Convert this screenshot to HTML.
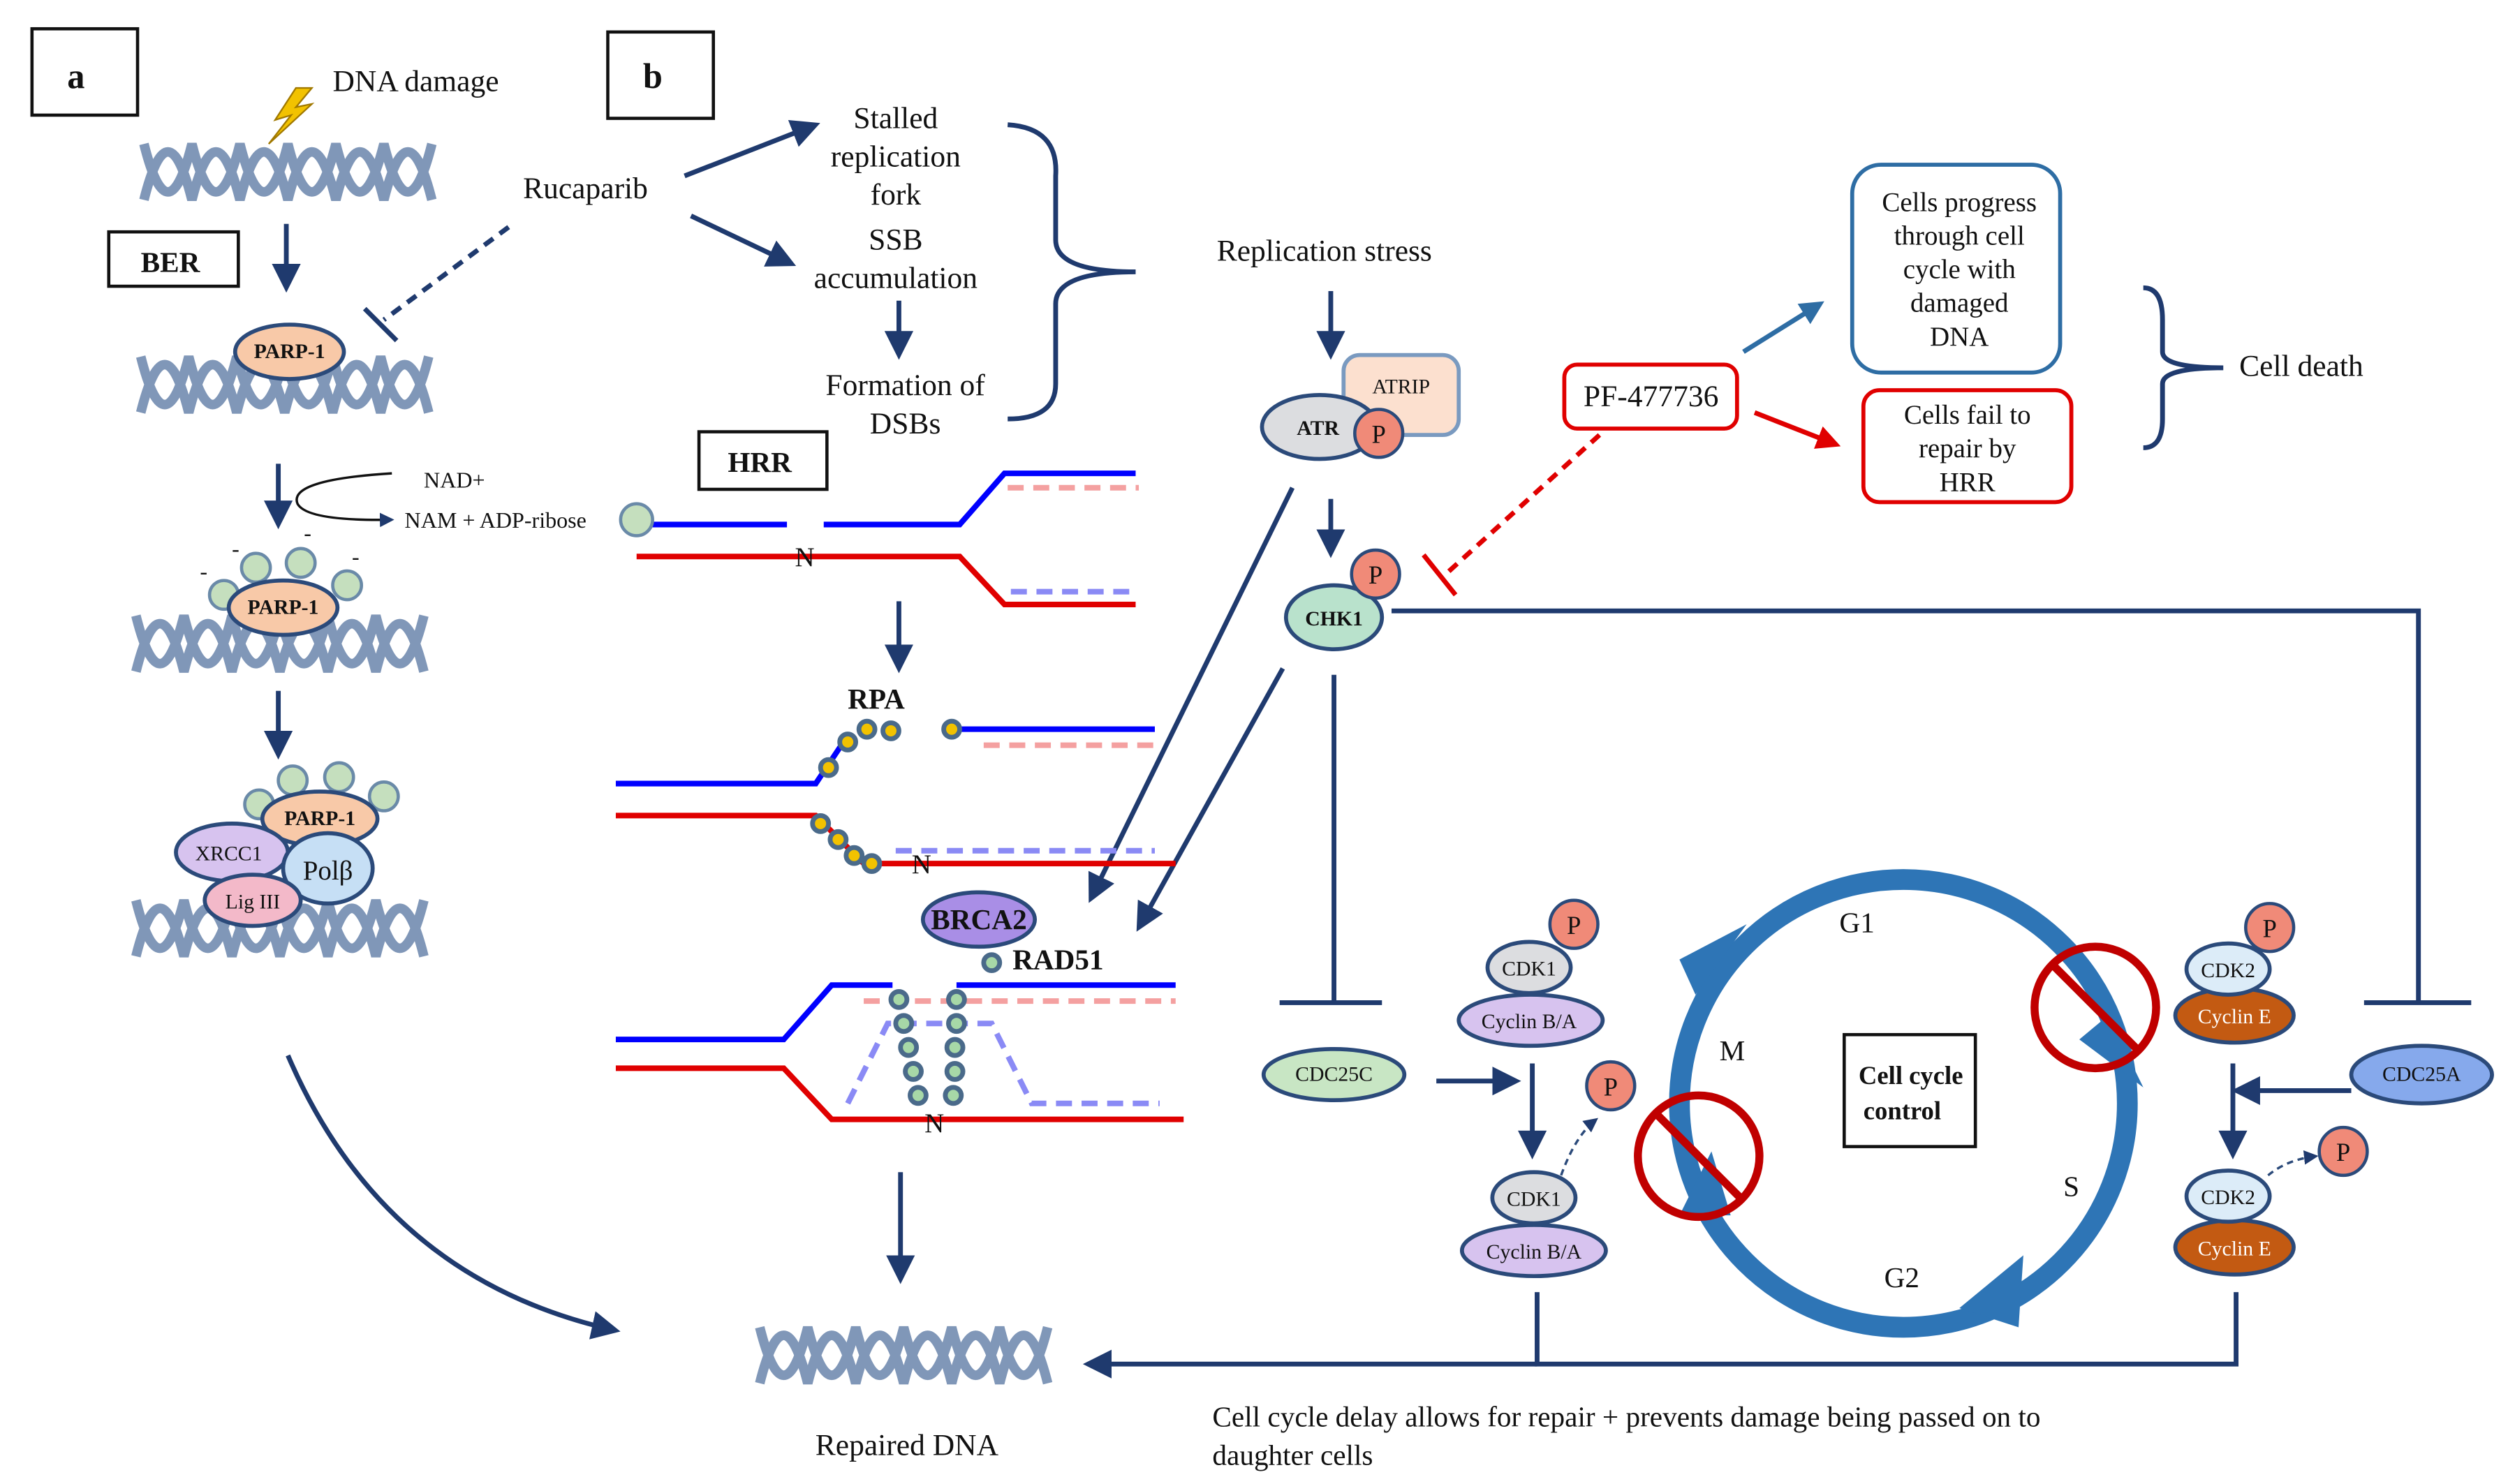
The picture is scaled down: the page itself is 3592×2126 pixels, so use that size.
<!DOCTYPE html>
<html><head><meta charset="utf-8"><style>
html,body{margin:0;padding:0;background:#fff}
svg{display:block}
text{font-family:"Liberation Serif",serif;fill:#111}
</style></head><body>
<svg width="3592" height="2126" viewBox="0 0 1568 928" preserveAspectRatio="none" xmlns="http://www.w3.org/2000/svg">
<defs>
<marker id="ah" markerWidth="6" markerHeight="6" refX="5" refY="3" orient="auto" markerUnits="strokeWidth"><path d="M0,0 L6,3 L0,6 z" fill="#1f3a6e"/></marker>
<marker id="ahb" markerWidth="5" markerHeight="5" refX="4" refY="2.5" orient="auto" markerUnits="strokeWidth"><path d="M0,0 L5,2.5 L0,5 z" fill="#2e6da4"/></marker>
<marker id="ahr" markerWidth="5" markerHeight="5" refX="4" refY="2.5" orient="auto" markerUnits="strokeWidth"><path d="M0,0 L5,2.5 L0,5 z" fill="#e00000"/></marker>
<g id="helix" fill="none" stroke="#8097b8" stroke-width="6">
<path d="M0,40 C10,0 20,0 30,40 C40,0 50,0 60,40 C70,0 80,0 90,40 C100,0 110,0 120,40 C130,0 140,0 150,40 C160,0 170,0 180,40"/>
<path d="M0,5 C10,45 20,45 30,5 C40,45 50,45 60,5 C70,45 80,45 90,5 C100,45 110,45 120,5 C130,45 140,45 150,5 C160,45 170,45 180,5"/>
</g>
</defs>
<g fill="none" stroke="#111" stroke-width="2">
<rect x="20" y="18" width="66" height="54"/><rect x="380" y="20" width="66" height="54"/>
<rect x="68" y="145" width="81" height="34"/><rect x="437" y="270" width="80" height="36"/>
<rect x="1153" y="647" width="82" height="70"/>
</g>
<text x="42" y="55" font-size="22" font-weight="bold">a</text>
<text x="402" y="55" font-size="22" font-weight="bold">b</text>
<text x="88" y="170" font-size="18" font-weight="bold">BER</text>
<text x="455" y="295" font-size="18" font-weight="bold">HRR</text>
<text x="1162" y="678" font-size="16" font-weight="bold">Cell cycle</text>
<text x="1165" y="700" font-size="16" font-weight="bold">control</text>
<text x="208" y="57" font-size="19">DNA damage</text>
<path d="M185,55 L172,75 L182,72 L168,90 L195,65 L185,67 L195,55z" fill="#f2c200" stroke="#a07800"/>
<use href="#helix" x="90" y="85"/><use href="#helix" x="88" y="218"/><use href="#helix" x="85" y="380"/><use href="#helix" x="85" y="558"/><use href="#helix" x="475" y="825"/>
<g stroke="#1f3a6e" stroke-width="3" fill="none">
<path d="M179,140 V180" marker-end="url(#ah)"/>
<path d="M174,290 V328" marker-end="url(#ah)"/>
<path d="M174,432 V472" marker-end="url(#ah)"/>
<path d="M180,660 Q240,800 385,832" marker-end="url(#ah)"/>
<path d="M318,142 L240,200" stroke-dasharray="7,5"/><path d="M228,193 L248,213"/>
<path d="M428,110 L510,78" marker-end="url(#ah)"/>
<path d="M432,135 L495,165" marker-end="url(#ah)"/>
<path d="M562,188 V222" marker-end="url(#ah)"/>
<path d="M630,78 Q662,80 660,110 L660,150 Q660,170 710,170 Q660,170 660,190 L660,240 Q660,262 630,262"/>
<path d="M562,376 V418" marker-end="url(#ah)"/>
<path d="M563,733 V800" marker-end="url(#ah)"/>
<path d="M832,182 V222" marker-end="url(#ah)"/>
<path d="M832,312 V346" marker-end="url(#ah)"/>
<path d="M808,305 L682,562" marker-end="url(#ah)"/>
<path d="M802,418 L712,580" marker-end="url(#ah)"/>
<path d="M834,422 V627"/><path d="M800,627 H864"/>
<path d="M870,382 H1512 V627"/><path d="M1478,627 H1545"/>
<path d="M898,676 H948" marker-end="url(#ah)"/>
<path d="M958,665 V722" marker-end="url(#ah)"/>
<path d="M1470,682 H1398" marker-end="url(#ah)"/>
<path d="M1396,665 V722" marker-end="url(#ah)"/>
<path d="M961,808 V853 H1398 V808"/>
<path d="M961,853 H680" marker-end="url(#ah)"/>
<path d="M1340,180 Q1352,180 1352,200 V220 Q1352,230 1390,230 Q1352,230 1352,240 V262 Q1352,280 1340,280"/>
</g>
<path d="M1090,220 L1138,190" stroke="#2e6da4" stroke-width="3" marker-end="url(#ahb)"/>
<path d="M1097,258 L1148,278" stroke="#e00000" stroke-width="3" marker-end="url(#ahr)"/>
<path d="M1000,272 L905,358" stroke="#e00000" stroke-width="3" stroke-dasharray="7,5"/><path d="M890,347 L910,372" stroke="#e00000" stroke-width="3"/>
<path d="M245,296 Q180,300 186,315 Q192,326 245,325" fill="none" stroke="#111" stroke-width="1.5" marker-end="url(#ah)"/>
<text x="265" y="305" font-size="14">NAD+</text>
<text x="253" y="330" font-size="14">NAM + ADP-ribose</text>
<text x="327" y="124" font-size="19">Rucaparib</text>
<g font-size="19" text-anchor="middle"><text x="560" y="80">Stalled</text><text x="560" y="104">replication</text><text x="560" y="128">fork</text>
<text x="560" y="156">SSB</text><text x="560" y="180">accumulation</text><text x="566" y="247">Formation of</text><text x="566" y="271">DSBs</text>
<text x="828" y="163">Replication stress</text><text x="567" y="910">Repaired DNA</text></g>
<text x="1400" y="235" font-size="19">Cell death</text>
<text x="758" y="892" font-size="18">Cell cycle delay allows for repair + prevents damage being passed on to</text>
<text x="758" y="916" font-size="18">daughter cells</text>
<rect x="1158" y="103" width="130" height="130" rx="18" fill="none" stroke="#2e6da4" stroke-width="2.5"/>
<g font-size="17" text-anchor="middle"><text x="1225" y="132">Cells progress</text><text x="1225" y="153">through cell</text><text x="1225" y="174">cycle with</text><text x="1225" y="195">damaged</text><text x="1225" y="216">DNA</text>
<text x="1230" y="265">Cells fail to</text><text x="1230" y="286">repair by</text><text x="1230" y="307">HRR</text></g>
<rect x="1165" y="244" width="130" height="70" rx="10" fill="none" stroke="#e00000" stroke-width="2.5"/>
<rect x="978" y="228" width="108" height="40" rx="8" fill="none" stroke="#e00000" stroke-width="2.5"/>
<text x="990" y="254" font-size="19">PF-477736</text>
<!-- DNA strands HRR -->
<g fill="none" stroke-width="3.5">
<path d="M405,328 H492 M515,328 H600 L628,296 H710" stroke="#0000ff"/>
<path d="M398,348 H600 L628,378 H710" stroke="#e00000"/>
<path d="M630,305 H712" stroke="#f4a0a0" stroke-dasharray="10,6"/>
<path d="M632,370 H712" stroke="#8a8af5" stroke-dasharray="10,6"/>
<path d="M385,490 H510 L530,460" stroke="#0000ff"/>
<path d="M598,456 H722" stroke="#0000ff"/>
<path d="M615,466 H722" stroke="#f4a0a0" stroke-dasharray="10,6"/>
<path d="M385,510 H510 L540,540 H735" stroke="#e00000"/>
<path d="M560,532 H722" stroke="#8a8af5" stroke-dasharray="10,6"/>
<path d="M385,650 H490 L520,616 H558" stroke="#0000ff"/>
<path d="M598,616 H735" stroke="#0000ff"/>
<path d="M540,626 H735" stroke="#f4a0a0" stroke-dasharray="10,6"/>
<path d="M385,668 H490 L520,700 H740" stroke="#e00000"/>
<path d="M530,690 L555,640 H620 L645,690 H725" stroke="#8a8af5" stroke-dasharray="10,6"/>
</g>
<text x="497" y="354" font-size="17">N</text><text x="570" y="546" font-size="17">N</text><text x="578" y="708" font-size="17">N</text>
<text x="530" y="443" font-size="18" font-weight="bold">RPA</text>
<text x="633" y="606" font-size="18" font-weight="bold">RAD51</text>
<g fill="#f2c200" stroke="#4a6a8a" stroke-width="3">
<circle cx="518" cy="480" r="5"/><circle cx="530" cy="464" r="5"/><circle cx="542" cy="456" r="5"/><circle cx="557" cy="457" r="5"/><circle cx="595" cy="456" r="5"/>
<circle cx="513" cy="515" r="5"/><circle cx="524" cy="525" r="5"/><circle cx="534" cy="535" r="5"/><circle cx="545" cy="540" r="5"/>
</g>
<g fill="#a7d8a7" stroke="#4a6a8a" stroke-width="3">
<circle cx="620" cy="602" r="5"/>
<circle cx="562" cy="625" r="5"/><circle cx="565" cy="640" r="5"/><circle cx="568" cy="655" r="5"/><circle cx="571" cy="670" r="5"/><circle cx="574" cy="685" r="5"/>
<circle cx="598" cy="625" r="5"/><circle cx="598" cy="640" r="5"/><circle cx="597" cy="655" r="5"/><circle cx="597" cy="670" r="5"/><circle cx="596" cy="685" r="5"/>
</g>
<g fill="#c5dfbe" stroke="#6a8aa8" stroke-width="2">
<circle cx="398" cy="325" r="10"/>
<circle cx="140" cy="372" r="9"/><circle cx="160" cy="355" r="9"/><circle cx="188" cy="352" r="9"/><circle cx="217" cy="366" r="9"/>
<circle cx="162" cy="503" r="9"/><circle cx="183" cy="488" r="9"/><circle cx="212" cy="486" r="9"/><circle cx="240" cy="498" r="9"/>
</g>
<g stroke="#2b4a7a" stroke-width="2.5">
<ellipse cx="181" cy="220" rx="34" ry="17" fill="#f8c9a8"/>
<ellipse cx="177" cy="380" rx="34" ry="17" fill="#f8c9a8"/>
<ellipse cx="200" cy="512" rx="36" ry="17" fill="#f8c9a8"/>
<ellipse cx="145" cy="533" rx="35" ry="18" fill="#d7c3ef"/>
<ellipse cx="205" cy="543" rx="28" ry="22" fill="#c6dff5"/>
<ellipse cx="158" cy="563" rx="30" ry="16" fill="#f3b9c9"/>
<ellipse cx="612" cy="575" rx="35" ry="17" fill="#a98ee6"/>
<rect x="840" y="222" width="72" height="50" rx="10" fill="#fce0cf" stroke="#7a9ac0"/>
<ellipse cx="825" cy="267" rx="36" ry="20" fill="#dcdde0"/>
<ellipse cx="834" cy="386" rx="30" ry="20" fill="#b9e2cc"/>
<ellipse cx="834" cy="672" rx="44" ry="16" fill="#c8e6c4"/>
<ellipse cx="1514" cy="672" rx="44" ry="18" fill="#86a9ec"/>
<ellipse cx="957" cy="638" rx="45" ry="16" fill="#d7c3ef"/><ellipse cx="956" cy="605" rx="26" ry="16" fill="#dcdde0"/>
<ellipse cx="959" cy="782" rx="45" ry="16" fill="#d7c3ef"/><ellipse cx="959" cy="749" rx="26" ry="16" fill="#dcdde0"/>
<ellipse cx="1397" cy="635" rx="37" ry="17" fill="#c35a12"/><ellipse cx="1393" cy="606" rx="26" ry="16" fill="#dcecf8"/>
<ellipse cx="1397" cy="780" rx="37" ry="17" fill="#c35a12"/><ellipse cx="1393" cy="748" rx="26" ry="16" fill="#dcecf8"/>
</g>
<g fill="#f08a78" stroke="#2b4a7a" stroke-width="2">
<circle cx="862" cy="271" r="15"/><circle cx="860" cy="359" r="15"/>
<circle cx="984" cy="578" r="15"/><circle cx="1007" cy="679" r="15"/>
<circle cx="1419" cy="580" r="15"/><circle cx="1465" cy="720" r="15"/>
</g>
<g font-size="13" font-weight="bold" text-anchor="middle">
<text x="181" y="224">PARP-1</text><text x="177" y="384">PARP-1</text><text x="200" y="516">PARP-1</text>
<text x="824" y="272">ATR</text><text x="834" y="391">CHK1</text>
</g>
<g font-size="13" text-anchor="middle">
<text x="143" y="538">XRCC1</text><text x="158" y="568">Lig III</text><text x="876" y="246">ATRIP</text>
<text x="834" y="676">CDC25C</text><text x="1514" y="676">CDC25A</text>
<text x="956" y="610">CDK1</text><text x="956" y="643">Cyclin B/A</text>
<text x="959" y="754">CDK1</text><text x="959" y="787">Cyclin B/A</text>
<text x="1393" y="611">CDK2</text><text x="1393" y="753">CDK2</text>
<text x="1397" y="640" fill="#fff" style="fill:#fff">Cyclin E</text><text x="1397" y="785" style="fill:#fff">Cyclin E</text>
</g>
<text x="205" y="550" font-size="17" text-anchor="middle">Polβ</text>
<text x="612" y="581" font-size="18" font-weight="bold" text-anchor="middle">BRCA2</text>
<g font-size="16" text-anchor="middle"><text x="862" y="277">P</text><text x="860" y="365">P</text><text x="984" y="584">P</text><text x="1007" y="685">P</text><text x="1419" y="586">P</text><text x="1465" y="726">P</text></g>
<g fill="none" stroke="#2b4a7a" stroke-width="1.5" stroke-dasharray="4,3"><path d="M976,735 Q985,710 998,700" marker-end="url(#ah)"/><path d="M1418,735 Q1430,725 1448,723" marker-end="url(#ah)"/></g>
<!-- cycle -->
<circle cx="1190" cy="690" r="140" fill="none" stroke="#2e75b6" stroke-width="13"/>
<path d="M1050,600 L1092,578 L1060,622z" fill="#2e75b6"/>
<path d="M1318,635 L1340,680 L1300,650z" fill="#2e75b6"/>
<path d="M1225,818 L1265,785 L1262,830z" fill="#2e75b6"/>
<path d="M1050,760 L1070,720 L1082,760z" fill="#2e75b6"/>
<g font-size="18"><text x="1150" y="583">G1</text><text x="1075" y="663">M</text><text x="1290" y="748">S</text><text x="1178" y="805">G2</text></g>
<g fill="none" stroke="#c00000" stroke-width="5"><circle cx="1310" cy="630" r="38"/><path d="M1283,603 L1337,657"/><circle cx="1062" cy="723" r="38"/><path d="M1035,696 L1089,750"/></g>
<text x="125" y="362" font-size="14">-</text><text x="145" y="348" font-size="14">-</text><text x="190" y="338" font-size="14">-</text><text x="220" y="353" font-size="14">-</text>
</svg>
</body></html>
